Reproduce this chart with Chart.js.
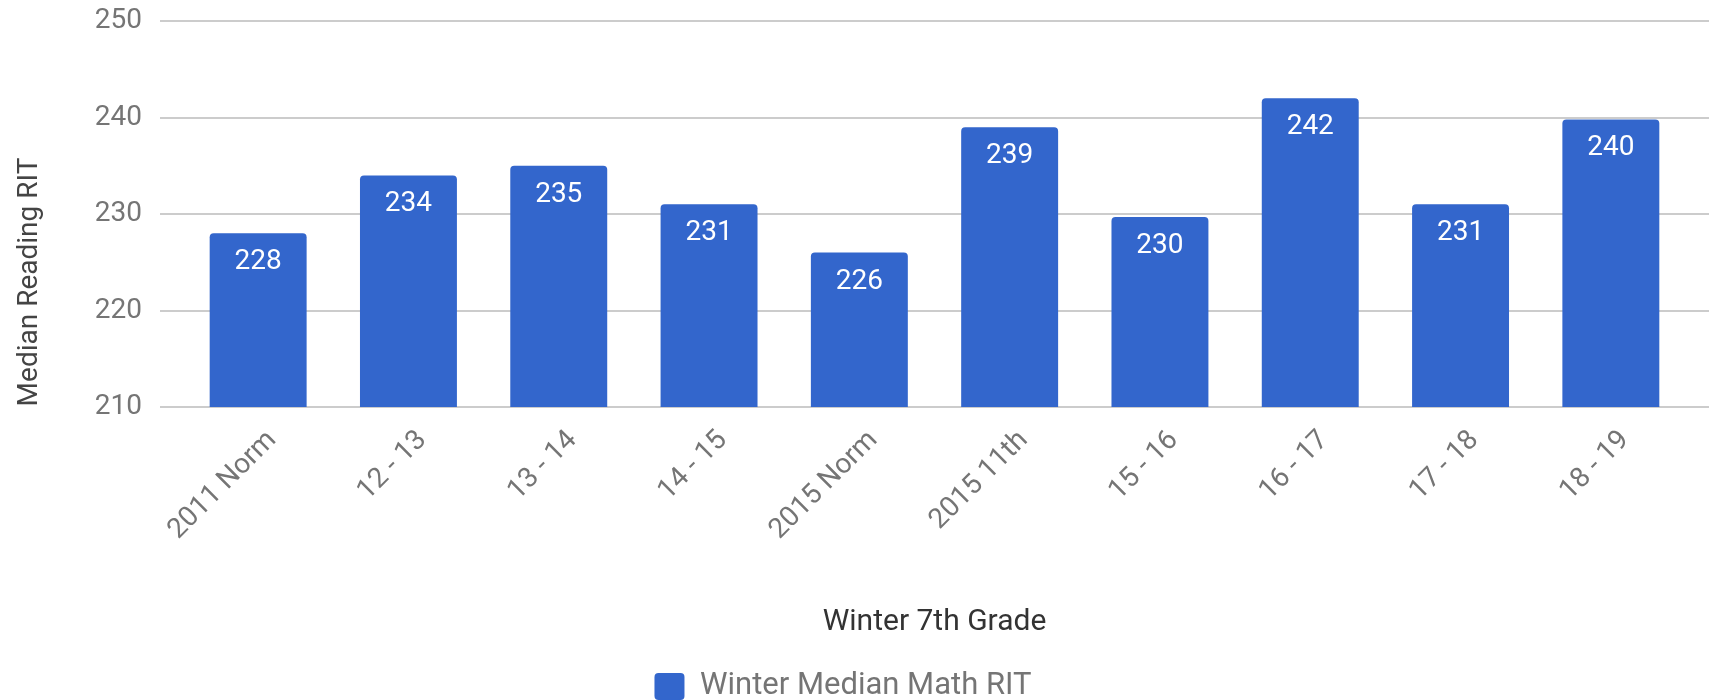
<!DOCTYPE html>
<html>
<head>
<meta charset="utf-8">
<script src="https://cdn.jsdelivr.net/npm/chart.js@4/dist/chart.umd.min.js"></script>
<style>
  html, body { margin: 0; padding: 0; background: #fff; }
  #wrap { width: 1709px; height: 700px; }
</style>
</head>
<body>
<div id="wrap"><canvas id="chart" width="1709" height="700"></canvas></div>
<script>
// Winter 7th grade median RIT by year

const categories = ['2011 Norm', '12 - 13', '13 - 14', '14 - 15', '2015 Norm', '2015 11th', '15 - 16', '16 - 17', '17 - 18', '18 - 19'];
const mathRIT = [228, 234, 235, 231, 226, 239, 229.7, 242, 231, 239.8];
const yTicks = [210, 220, 230, 240, 250];

const seriesName = 'Winter Median Math RIT';
const xTitle = 'Winter 7th Grade';
const yTitle = 'Median Reading RIT';

const BLUE = '#3366cc';
const FONT = 'Roboto';

// gridlines run a bit past the bars on both sides
const wideGrid = {
    id: 'wideGrid',
    beforeDatasetsDraw(chart) {
        const y = chart.scales.y;
        const ctx = chart.ctx;
        const area = chart.chartArea;
        ctx.save();
        ctx.strokeStyle = '#cccccc';
        ctx.lineWidth = 2;
        yTicks.forEach(v => {
            const py = Math.round(y.getPixelForValue(v));
            ctx.beginPath();
            ctx.moveTo(area.left - 23, py);
            ctx.lineTo(chart.width, py);
            ctx.stroke();
        });
        ctx.restore();
    }
};

// value labels inside the top of each bar
const barLabels = {
    id: 'barLabels',
    afterDatasetsDraw(chart) {
        const ctx = chart.ctx;
        const meta = chart.getDatasetMeta(0);
        ctx.save();
        ctx.fillStyle = '#ffffff';
        ctx.font = '28px ' + FONT;
        ctx.textAlign = 'center';
        ctx.textBaseline = 'middle';
        meta.data.forEach((bar, i) => {
            ctx.fillText(String(Math.round(mathRIT[i])), bar.x, bar.y + 29);
        });
        ctx.restore();
    }
};

// y axis title, sits lower than the plot centre like the original
const yAxisTitle = {
    id: 'yAxisTitle',
    afterDraw(chart) {
        const ctx = chart.ctx;
        ctx.save();
        ctx.translate(30, 282);
        ctx.rotate(-Math.PI / 2);
        ctx.fillStyle = '#444444';
        ctx.font = '28px ' + FONT;
        ctx.textAlign = 'center';
        ctx.textBaseline = 'middle';
        ctx.fillText(yTitle, 0, 0);
        ctx.restore();
    }
};

new Chart(document.getElementById('chart').getContext('2d'), {
    type: 'bar',
    data: {
        labels: categories,
        datasets: [{
            label: seriesName,
            data: mathRIT,
            backgroundColor: BLUE,
            borderRadius: 4,
            barPercentage: 0.645,
            categoryPercentage: 1
        }]
    },
    options: {
        responsive: false,
        animation: false,
        layout: { padding: { left: 0, right: 23, top: 21, bottom: 0 } },
        scales: {
            x: {
                grid: { display: false, drawTicks: false },
                border: { display: false },
                ticks: {
                    color: '#757575',
                    font: { family: FONT, size: 28 },
                    minRotation: 45,
                    maxRotation: 45,
                    padding: 17,
                    labelOffset: 14,
                    autoSkip: false
                },
                title: {
                    display: true,
                    text: xTitle,
                    color: '#333333',
                    font: { family: FONT, size: 30 },
                    padding: { top: 0, bottom: 20 }
                },
                afterFit(scale) {
                    scale.height = 253;
                    scale.paddingLeft = 0;
                    scale.paddingRight = 0;
                }
            },
            y: {
                min: 210,
                max: 250,
                grid: { display: false, drawTicks: false },
                border: { display: false },
                ticks: {
                    stepSize: 10,
                    color: '#757575',
                    font: { family: FONT, size: 28 },
                    padding: 41
                },
                afterFit(scale) {
                    scale.width = 183;
                    scale.paddingTop = 0;
                    scale.paddingBottom = 0;
                }
            }
        },
        plugins: {
            legend: {
                position: 'bottom',
                maxHeight: 40,
                labels: {
                    color: '#757575',
                    font: { family: FONT, size: 31 },
                    boxWidth: 30,
                    boxHeight: 27,
                    padding: 11,
                    useBorderRadius: true,
                    borderRadius: 4
                }
            },
            tooltip: { enabled: false }
        }
    },
    plugins: [wideGrid, barLabels, yAxisTitle]
});
</script>
</body>
</html>
